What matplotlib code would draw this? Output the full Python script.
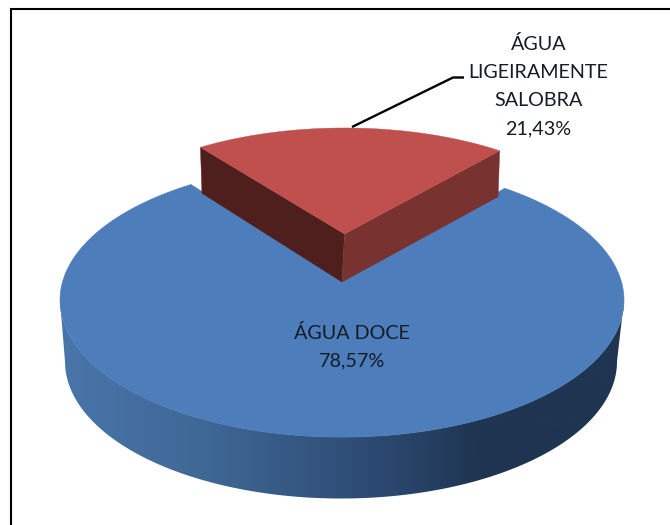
import numpy as np
import matplotlib
matplotlib.use("Agg")
import matplotlib.pyplot as plt
from matplotlib.patches import Polygon
from matplotlib.colors import LinearSegmentedColormap

# ---- data ----
categories = ["ÁGUA DOCE", "ÁGUA LIGEIRAMENTE SALOBRA"]
label_lines = [["ÁGUA DOCE"], ["ÁGUA", "LIGEIRAMENTE", "SALOBRA"]]
values = [78.57, 21.43]

FONT = "Lato"
FS = 14.2
TXT = "#141c26"

fig = plt.figure(figsize=(6.7, 5.25), dpi=100, facecolor="white")
ax = fig.add_axes([0, 0, 1, 1])


def project(theta, cx, cy, A, B, p):
    """Perspective projection of a unit circle (angles in radians)."""
    u, v = np.cos(theta), np.sin(theta)
    w = 1 + p * v
    return cx + A * u / w, cy - B * v / w


# slice angles come from the values
total = sum(values)
span_red = 2 * np.pi * values[1] / total
mid_red = np.deg2rad(88.4)
red_a0, red_a1 = mid_red - span_red / 2, mid_red + span_red / 2

BLUE = dict(cx=342, cy=281, A=279.2, B=134.3, p=0.14)
RED = dict(cx=344.5, cy=234, A=264, B=119.6, p=0.128)

# ---- blue side with horizontal shading ----
t = np.linspace(np.pi, 2 * np.pi, 240)
ex = 342 + 282 * np.cos(t)
ey = 300 - 137 * np.sin(t)
bx = 341 + 276 * np.cos(t)
by = 361.5 - 137 * np.sin(t)
side = Polygon(np.r_[np.c_[ex, ey], np.c_[bx, by][::-1]], closed=True,
               facecolor="none", edgecolor="none")
ax.add_patch(side)
cmap = LinearSegmentedColormap.from_list(
    "side", [(0, "#4975aa"), (0.25, "#406896"), (0.5, "#30507a"),
             (0.68, "#243d5e"), (0.74, "#1f3550"), (1, "#1f3550")])
im = ax.imshow(np.linspace(0, 1, 560)[None, :], extent=(60, 624, 500, 290),
               cmap=cmap, aspect="auto", zorder=1)
im.set_clip_path(side)

# ---- blue top face ----
th = np.linspace(red_a0, red_a1 - 2 * np.pi, 500)
x, y = project(th, **BLUE)
ax.add_patch(Polygon(np.r_[[[BLUE["cx"], BLUE["cy"]]], np.c_[x, y]], closed=True,
                     facecolor="#4d7ebb", edgecolor="#4d7ebb", lw=0.4, zorder=2))

# ---- red slice ----
tx_r, ty_r = project(red_a0, **RED)
tx_l, ty_l = project(red_a1, **RED)
apex = (RED["cx"], RED["cy"])
apex_low = (342, 282)
ax.add_patch(Polygon([apex, (tx_l, ty_l), (tx_l + 1.5, ty_l + 46), apex_low], closed=True,
                     facecolor="#4f1f1d", edgecolor="#4f1f1d", lw=0.3, zorder=3))
ax.add_patch(Polygon([apex, (tx_r, ty_r), (tx_r - 1.5, ty_r + 46), apex_low], closed=True,
                     facecolor="#783230", edgecolor="#783230", lw=0.3, zorder=3))
th = np.linspace(red_a0, red_a1, 120)
x, y = project(th, **RED)
ax.add_patch(Polygon(np.r_[[apex], np.c_[x, y]], closed=True,
                     facecolor="#c0504d", edgecolor="#c0504d", lw=0.3, zorder=4))


def pct(v):
    return f"{v:.2f}".replace(".", ",") + "%"


# ---- labels ----
ax.plot([352, 453, 464], [127, 77.5, 77.5], color="black", lw=1.7, zorder=5,
        solid_capstyle="butt", solid_joinstyle="round")
lines_red = label_lines[1] + [pct(values[1])]
for txt, yy in zip(lines_red, [43.5, 72, 100.5, 128.5]):
    ax.text(538.6, yy, txt, ha="center", va="center", fontsize=FS, family=FONT, color=TXT, zorder=6)
lines_blue = label_lines[0] + [pct(values[0])]
for txt, yy in zip(lines_blue, [333, 360.5]):
    ax.text(351.5, yy, txt, ha="center", va="center", fontsize=FS, family=FONT, color=TXT, zorder=6)

# ---- outer frame (left and top visible) ----
ax.plot([11, 11, 670], [525, 9, 9], color="black", lw=1.5, zorder=7, solid_joinstyle="miter")

ax.set_xlim(0, 670)
ax.set_ylim(525, 0)
ax.axis("off")
fig.savefig("out.png", dpi=100, facecolor="white")
